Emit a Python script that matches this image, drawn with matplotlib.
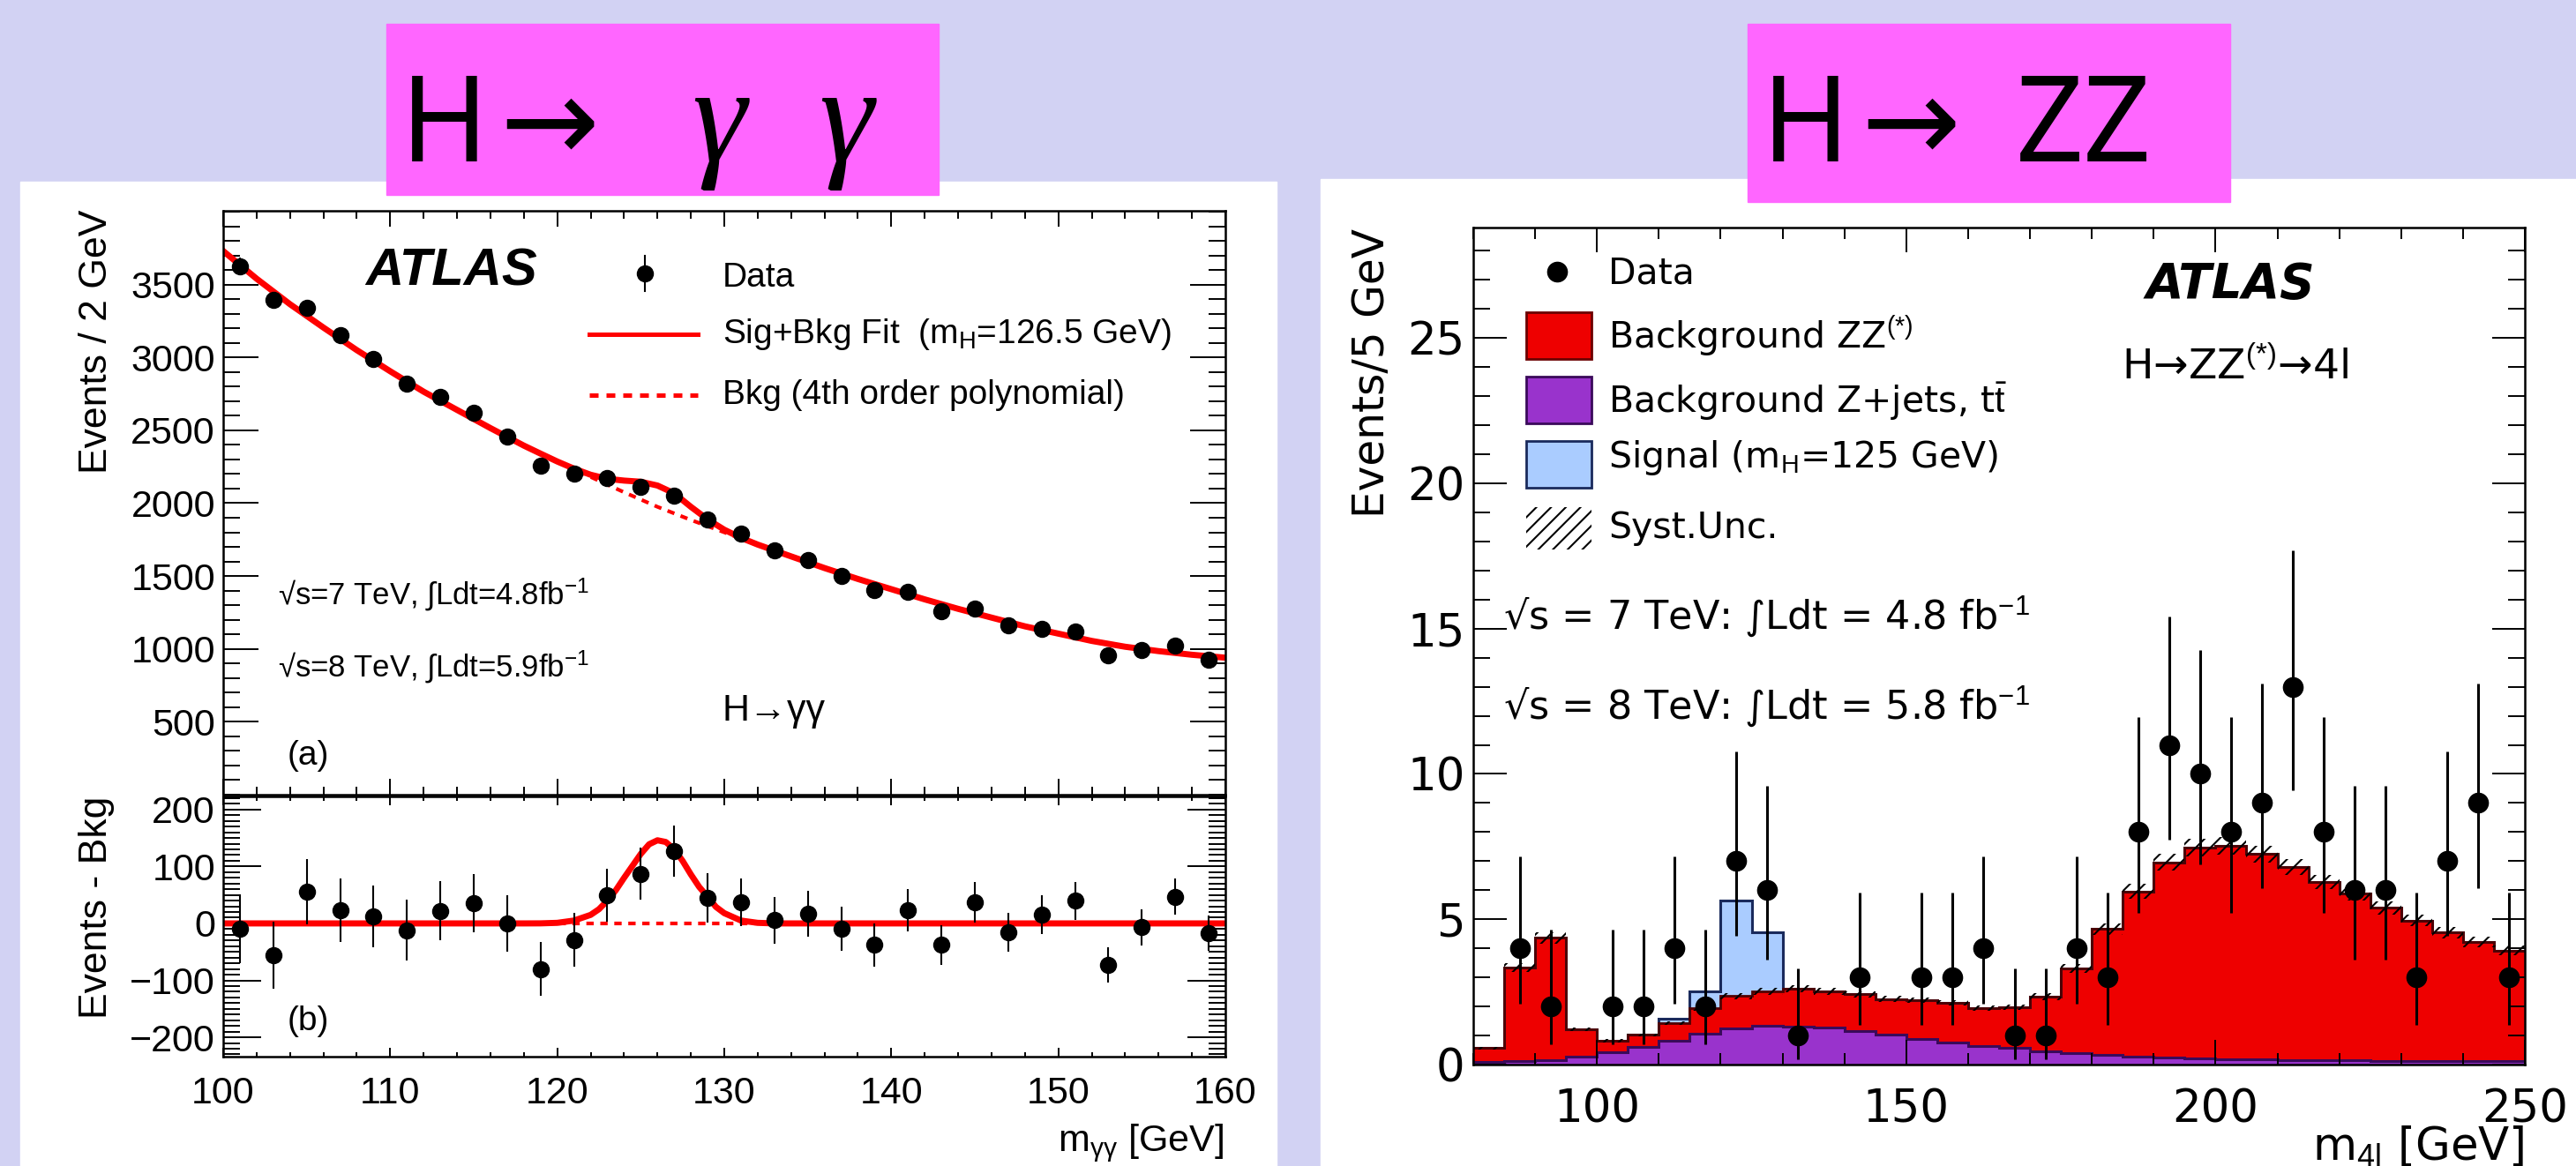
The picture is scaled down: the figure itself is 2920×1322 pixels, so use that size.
import numpy as np
import matplotlib
matplotlib.use("Agg")
import matplotlib.pyplot as plt
from matplotlib.ticker import MultipleLocator
from matplotlib.patches import Rectangle

# === data: H -> gamma gamma ===
gg_mass = np.arange(101, 160, 2)
gg_data = [3624, 3394, 3339, 3151, 2988, 2818, 2727, 2618, 2454, 2260, 2200, 2175, 2109, 2054, 1891,
           1794, 1679, 1612, 1503, 1406, 1394, 1260, 1279, 1164, 1139, 1121, 957, 994, 1024, 927]
gg_resid = [-9, -56, 56, 23, 12, -12, 22, 36, 0, -80, -29, 50, 87, 127, 45,
            37, 6, 17, -9, -38, 23, -38, 37, -15, 15, 40, -73, -7, 47, -17]
bkg_x = np.arange(100, 161, 2)
bkg_y = [3730, 3540, 3365, 3205, 3050, 2905, 2765, 2640, 2515, 2395, 2285, 2180, 2075, 1975, 1885, 1800,
         1715, 1635, 1555, 1480, 1410, 1340, 1275, 1215, 1155, 1105, 1055, 1015, 985, 960, 940]
fit_x = [100, 102, 104, 106, 108, 110, 112, 114, 116, 118, 119, 120, 121, 122, 123, 124, 125, 126, 127,
         128, 129, 130, 131, 132, 134, 136, 138, 140, 142, 144, 146, 148, 150, 152, 154, 156, 158, 160]
fit_y = [3730, 3540, 3365, 3205, 3050, 2905, 2765, 2640, 2515, 2395, 2340, 2286, 2237, 2195, 2167, 2155,
         2147, 2121, 2068, 1975, 1889, 1818, 1762, 1716, 1635, 1555, 1480, 1410, 1340, 1275, 1215, 1155,
         1105, 1055, 1015, 985, 960, 940]
sig_x = [100, 118, 119, 120, 121, 122, 122.5, 123, 123.5, 124, 124.5, 125, 125.5, 126, 126.5, 127,
         127.5, 128, 128.5, 129, 129.5, 130, 131, 132, 133, 160]
sig_y = [0, 0, 0.1, 1, 5, 15, 25, 40, 58, 80, 101, 122, 139, 146, 143, 130,
         110, 86, 64, 47, 29, 18, 5, 1, 0, 0]

# === data: H -> ZZ -> 4l ===
zz_edges = np.arange(80, 251, 5)
zz_centers = zz_edges[:-1] + 2.5
zz_data = np.array([0, 4, 2, 0, 2, 2, 4, 2, 7, 6, 1, 0, 3, 0, 3, 3, 4, 1, 1, 4, 3, 8, 11, 10, 8, 9,
                    13, 8, 6, 6, 3, 7, 9, 3])
zz_bkg = [0.48, 3.20, 4.20, 0.94, 0.41, 0.42, 0.61, 0.86, 1.12, 1.17, 1.31, 1.24, 1.28, 1.24, 1.35, 1.37,
          1.31, 1.41, 1.87, 2.91, 4.34, 5.68, 6.73, 7.26, 7.33, 7.08, 6.63, 6.13, 5.74, 5.26, 4.82, 4.42,
          4.10, 3.82]
zjets_bkg = [0.09, 0.13, 0.16, 0.26, 0.41, 0.60, 0.82, 1.07, 1.24, 1.35, 1.31, 1.28, 1.14, 1.02, 0.87,
             0.75, 0.64, 0.57, 0.47, 0.39, 0.33, 0.28, 0.23, 0.21, 0.19, 0.17, 0.16, 0.15, 0.14, 0.13,
             0.13, 0.12, 0.11, 0.11]
zz_signal = [0, 0, 0, 0, 0, 0, 0.15, 0.58, 3.27, 2.02, 0, 0, 0, 0, 0, 0, 0, 0, 0, 0, 0, 0, 0, 0, 0,
             0, 0, 0, 0, 0, 0, 0, 0, 0]
zz_syst = [0.05, 0.15, 0.2, 0.06, 0.05, 0.05, 0.07, 0.09, 0.11, 0.12, 0.12, 0.12, 0.11, 0.1, 0.1, 0.1,
           0.09, 0.09, 0.11, 0.15, 0.2, 0.25, 0.28, 0.3, 0.3, 0.29, 0.27, 0.25, 0.24, 0.22, 0.2, 0.19,
           0.18, 0.17]
# poisson 68% interval per count n = 0..13
pois_lo = [0, 0.173, 0.708, 1.367, 2.086, 2.840, 3.620, 4.419, 5.232, 6.057, 6.891, 7.734, 8.585, 9.441]
pois_hi = [1.841, 3.300, 4.638, 5.918, 7.163, 8.382, 9.584, 10.77, 11.95, 13.11, 14.27, 15.42, 16.56, 17.70]

# === fonts ===
plt.rcParams["font.family"] = ["Liberation Sans", "DejaVu Sans"]
plt.rcParams["mathtext.fontset"] = "custom"
plt.rcParams["mathtext.rm"] = "Liberation Sans"
plt.rcParams["mathtext.it"] = "Liberation Sans:italic"
plt.rcParams["mathtext.bf"] = "Liberation Sans:bold"
plt.rcParams["hatch.linewidth"] = 1.5
WIDE = ["DejaVu Sans"]
TITLE = ["Noto Sans", "DejaVu Sans"]

W, H = 2920, 1322
fig = plt.figure(figsize=(W / 100, H / 100), dpi=100, facecolor="#d2d2f3")


def frac(x0, y0, x1, y1):
    return [x0 / W, 1 - y1 / H, (x1 - x0) / W, (y1 - y0) / H]


# background panels and title boxes
bg = fig.add_axes([0, 0, 1, 1], zorder=-10)
bg.set_xlim(0, W)
bg.set_ylim(H, 0)
bg.axis("off")
bg.add_patch(Rectangle((23, 206), 1447 - 23, H - 206, color="white"))
bg.add_patch(Rectangle((1497, 203), W - 1497, H - 203, color="white"))
bg.add_patch(Rectangle((438, 27), 1064 - 438, 221 - 27, color="#ff66ff"))
bg.add_patch(Rectangle((1981, 27), 2528 - 1981, 229 - 27, color="#ff66ff"))


def root_ticks(ax, xmaj, xmin_, ymaj, ymin_, fs, fam=None, xpad=16, ypad=6.5):
    ax.tick_params(which="both", direction="in", top=True, right=True, width=1.4)
    ax.tick_params(axis="x", which="major", length=xmaj, pad=xpad)
    ax.tick_params(axis="x", which="minor", length=xmin_)
    ax.tick_params(axis="y", which="major", length=ymaj, pad=ypad)
    ax.tick_params(axis="y", which="minor", length=ymin_)
    ax.tick_params(labelsize=fs)
    if fam:
        ax.tick_params(labelfontfamily=fam)
    for s in ax.spines.values():
        s.set_linewidth(1.8)


# === left upper: mass spectrum ===
a1 = fig.add_axes(frac(253, 239, 1389, 901))
a1.plot(bkg_x, bkg_y, color="red", lw=3, ls=(0, (2, 1.8)))
a1.plot(fit_x, fit_y, color="red", lw=5)
a1.errorbar(gg_mass, gg_data, yerr=np.sqrt(gg_data), fmt="o", color="black", ms=13,
            elinewidth=1.5, capsize=0, zorder=5)
a1.set_xlim(100, 160)
a1.set_ylim(0, 4006)
a1.set_yticks(range(500, 4000, 500))
a1.yaxis.set_minor_locator(MultipleLocator(100))
a1.xaxis.set_major_locator(MultipleLocator(10))
a1.xaxis.set_minor_locator(MultipleLocator(2))
root_ticks(a1, 13, 6.5, 29, 14, 31)
a1.tick_params(labelbottom=False)

# === left lower: residuals ===
a2 = fig.add_axes(frac(253, 903, 1389, 1198))
a2.axhline(0, color="red", lw=3, ls=(0, (2, 1.8)))
a2.plot(sig_x, sig_y, color="red", lw=5)
a2.errorbar(gg_mass, gg_resid, yerr=np.sqrt(gg_data), fmt="o", color="black", ms=13,
            elinewidth=1.5, capsize=0, zorder=5)
a2.set_xlim(100, 160)
a2.set_ylim(-234, 223)
a2.yaxis.set_major_locator(MultipleLocator(100))
a2.yaxis.set_minor_locator(MultipleLocator(10))
a2.xaxis.set_major_locator(MultipleLocator(10))
a2.xaxis.set_minor_locator(MultipleLocator(2))
root_ticks(a2, 7, 3.6, 31, 14, 31)

# === right: four-lepton mass ===
zz_total = np.add(zz_bkg, zjets_bkg)
zz_top = zz_total + np.array(zz_signal)
a3 = fig.add_axes(frac(1670, 258, 2862, 1207))
a3.stairs(zjets_bkg, zz_edges, fill=True, color="#9933cc")
a3.stairs(zz_total, zz_edges, baseline=zjets_bkg, fill=True, color="#ee0000")
a3.stairs(zz_top, zz_edges, baseline=zz_total, fill=True, color="#aaccff")
a3.stairs(zz_top, zz_edges, baseline=None, color="#1a2a5c", lw=2.2)
a3.stairs(zz_total, zz_edges, baseline=None, color="#500000", lw=2)
a3.stairs(zjets_bkg, zz_edges, baseline=None, color="#3a0a5a", lw=2.2)
a3.stairs(zz_total + np.array(zz_syst), zz_edges, baseline=zz_total - np.array(zz_syst), fill=True,
          facecolor="none", edgecolor="black", hatch="//", lw=0)
has = zz_data > 0
n = zz_data[has]
yerr = [n - np.take(pois_lo, n), np.take(pois_hi, n) - n]
a3.errorbar(zz_centers[has], n, yerr=yerr, fmt="o", color="black", ms=16, elinewidth=2.2,
            capsize=0, zorder=5)
a3.set_xlim(80, 250)
a3.set_ylim(0, 28.8)
a3.xaxis.set_major_locator(MultipleLocator(50))
a3.xaxis.set_minor_locator(MultipleLocator(10))
a3.yaxis.set_major_locator(MultipleLocator(5))
a3.yaxis.set_minor_locator(MultipleLocator(1))
root_ticks(a3, 20, 9.5, 27, 14, 37, fam=WIDE, xpad=19, ypad=7)

# === overlay: titles, labels, legends ===
ov = fig.add_axes([0, 0, 1, 1], zorder=10)
ov.set_xlim(0, W)
ov.set_ylim(H, 0)
ov.axis("off")
ov.patch.set_visible(False)

ov.text(504, 183, "H", fontsize=97, family=TITLE, ha="center", va="baseline")
ov.text(623, 183, "→", fontsize=97, family=TITLE, ha="center", va="baseline")
ov.text(815, 183, "γ", fontsize=112, family="Liberation Serif", style="italic", ha="center", va="baseline")
ov.text(959, 183, "γ", fontsize=112, family="Liberation Serif", style="italic", ha="center", va="baseline")
ov.text(2047, 183, "H", fontsize=97, family=TITLE, ha="center", va="baseline")
ov.text(2166, 183, "→", fontsize=97, family=TITLE, ha="center", va="baseline")
ov.text(2362, 183, "ZZ", fontsize=97, family=TITLE, ha="center", va="baseline")

# left panel texts
ov.text(110, 387, "Events / 2 GeV", fontsize=32, rotation=90, ha="center", va="center")
ov.text(110, 1029, "Events - Bkg", fontsize=32, rotation=90, ha="center", va="center")
ov.text(1387, 1305, r"m$_{\mathrm{γγ}}$ [GeV]", fontsize=31, ha="right", va="baseline")
ov.text(414, 323, "ATLAS", fontsize=43, weight="bold", style="italic", va="baseline")
ov.plot([731, 731], [290, 330], color="black", lw=1.5)
ov.plot([731], [310], "o", color="black", ms=13)
ov.plot([668, 791], [379, 379], color="red", lw=3.6)
ov.plot([668, 791], [448, 448], color="red", lw=3.6, ls=(0, (2, 1.8)))
ov.text(819, 325, "Data", fontsize=28, va="baseline")
ov.text(819, 389, r"Sig+Bkg Fit  (m$_{\mathrm{H}}$=126.5 GeV)", fontsize=28, va="baseline")
ov.text(819, 458, "Bkg (4th order polynomial)", fontsize=28, va="baseline")
ov.text(315, 685, r"√s=7 TeV, ∫Ldt=4.8fb$^{-1}$", fontsize=25, va="baseline")
ov.text(315, 767, r"√s=8 TeV, ∫Ldt=5.9fb$^{-1}$", fontsize=25, va="baseline")
ov.text(819, 817, "H→γγ", fontsize=31, va="baseline")
ov.text(326, 867, "(a)", fontsize=28, va="baseline")
ov.text(326, 1168, "(b)", fontsize=28, va="baseline")

# right panel texts
ov.text(1555, 423, "Events/5 GeV", fontsize=35, family=WIDE, rotation=90, ha="center", va="center")
ov.text(2861, 1316, r"m$_{\mathrm{4l}}$ [GeV]", fontsize=37, family=WIDE, ha="right", va="baseline")
ov.plot([1765], [308], "o", color="black", ms=16)
ov.add_patch(Rectangle((1730, 354), 74, 53, facecolor="#ee0000", edgecolor="#6b0000", lw=2))
ov.add_patch(Rectangle((1730, 427), 74, 53, facecolor="#9933cc", edgecolor="#3a0a5a", lw=2))
ov.add_patch(Rectangle((1730, 500), 74, 53, facecolor="#aaccff", edgecolor="#1a2a5c", lw=2))
ov.add_patch(Rectangle((1730, 575), 74, 48, facecolor="none", edgecolor="black", hatch="//", lw=0))
ov.text(1823, 322, "Data", fontsize=29.5, family=WIDE, va="baseline")
ov.text(1823, 395, r"Background ZZ$^{(*)}$", fontsize=29.5, family=WIDE, va="baseline")
ov.text(1823, 468, r"Background Z+jets, t$\bar{\mathrm{t}}$", fontsize=29.5, family=WIDE, va="baseline")
ov.text(1823, 530, r"Signal (m$_{\mathrm{H}}$=125 GeV)", fontsize=29.5, family=WIDE, va="baseline")
ov.text(1823, 610, "Syst.Unc.", fontsize=29.5, family=WIDE, va="baseline")
ov.text(2433, 338, "ATLAS", fontsize=39.5, family=WIDE, weight="bold", style="italic", va="baseline")
ov.text(2405, 430, r"H→ZZ$^{(*)}$→4l", fontsize=34, family=WIDE, va="baseline")
ov.text(1704, 713, r"√s = 7 TeV: ∫Ldt = 4.8 fb$^{-1}$", fontsize=32, family=WIDE, va="baseline")
ov.text(1704, 815, r"√s = 8 TeV: ∫Ldt = 5.8 fb$^{-1}$", fontsize=32, family=WIDE, va="baseline")

fig.savefig("out.png", dpi=100, facecolor=fig.get_facecolor())
